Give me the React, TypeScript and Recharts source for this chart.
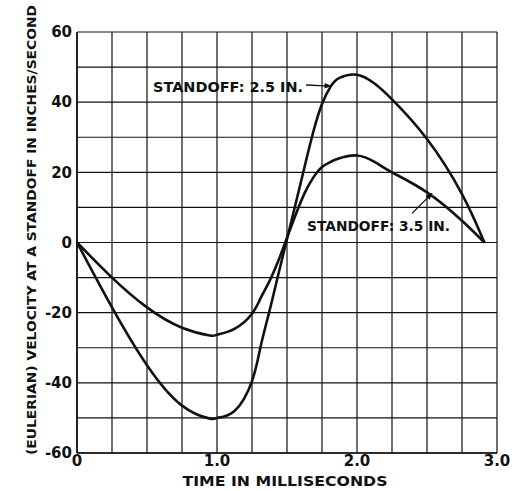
import React from 'react';
import {
  LineChart,
  Line,
  XAxis,
  YAxis,
  CartesianGrid,
  ReferenceLine,
  ReferenceDot,
  Label,
} from 'recharts';

// time in milliseconds
const times = [
  0, 0.25, 0.5, 0.75, 0.95, 1.0, 1.125, 1.25, 1.3125, 1.375, 1.4375, 1.5, 1.5625,
  1.625, 1.6875, 1.75, 1.8125, 1.875, 2.0, 2.125, 2.25, 2.5, 2.75, 2.91,
];
// velocity, inches/second
const standoff25 = [
  0, -18.5, -35, -46.5, -50.2, -50, -48, -39.5, -29.5, -19.5, -9.2, 1, 11.2,
  21.5, 31.5, 39.5, 44.5, 46.9, 47.8, 45.3, 40.8, 29.5, 13.8, 0,
];
const standoff35 = [
  0, -10, -18.5, -24.3, -26.5, -26.3, -24.6, -20.3, -15.8, -11, -5.3, 1.4, 8,
  14, 18.5, 21.5, 23, 24, 24.8, 23, 20, 14.3, 6.2, 0,
];

const xTicks = [0, 0.25, 0.5, 0.75, 1, 1.25, 1.5, 1.75, 2, 2.25, 2.5, 2.75, 3];
const yTicks = [-60, -50, -40, -30, -20, -10, 0, 10, 20, 30, 40, 50, 60];

const data = times.map((t, i) => ({ t, a: standoff25[i], b: standoff35[i] }));

const FONT = '"DejaVu Sans", "Liberation Sans", sans-serif';
const INK = '#111';

const tickStyle = { fill: INK, fontSize: 15, fontWeight: 700, fontFamily: FONT };

const fmtX = (v: number) => (v === 0 ? '0' : Number.isInteger(v) ? v.toFixed(1) : '');
const fmtY = (v: number) => (v % 20 === 0 ? String(v) : '');

const noteText = (text: string, len: number) => (props: any) => {
  const { viewBox } = props;
  return (
    <text
      x={viewBox.x}
      y={viewBox.y}
      fill={INK}
      fontSize={14}
      fontWeight={700}
      fontFamily={FONT}
      textLength={len}
      lengthAdjust="spacingAndGlyphs"
    >
      {text}
    </text>
  );
};

const yTitle = (props: any) => {
  const { viewBox } = props;
  const cx = viewBox.x + 19;
  const cy = 230;
  return (
    <text
      x={cx}
      y={cy}
      transform={`rotate(-90 ${cx} ${cy})`}
      textAnchor="middle"
      fill={INK}
      fontSize={13}
      fontWeight={700}
      fontFamily={FONT}
      textLength={450}
      lengthAdjust="spacingAndGlyphs"
    >
      (EULERIAN) VELOCITY AT A STANDOFF IN INCHES/SECOND
    </text>
  );
};

const xTitle = (props: any) => {
  const { viewBox } = props;
  return (
    <text
      x={viewBox.x + viewBox.width / 2 - 2}
      y={486}
      textAnchor="middle"
      fill={INK}
      fontSize={14}
      fontWeight={700}
      fontFamily={FONT}
      textLength={205}
      lengthAdjust="spacingAndGlyphs"
    >
      TIME IN MILLISECONDS
    </text>
  );
};

export default function App() {
  return (
    <div style={{ position: 'absolute', left: 0, top: 0, background: '#fff' }}>
      <LineChart
        width={525}
        height={491}
        data={data}
        margin={{ top: 32, right: 28, left: 17, bottom: 8 }}
      >
        <defs>
          <marker id="arrowHead" viewBox="0 0 10 10" refX="9" refY="5" markerWidth="9" markerHeight="7" orient="auto" markerUnits="userSpaceOnUse">
            <path d="M0,1 L10,5 L0,9 Z" fill={INK} />
          </marker>
        </defs>
        <CartesianGrid stroke={INK} strokeWidth={1.2} fill="none" />
        <XAxis
          dataKey="t"
          type="number"
          domain={[0, 3]}
          ticks={xTicks}
          tickFormatter={fmtX}
          tick={tickStyle}
          tickLine={false}
          tickSize={0}
          tickMargin={2}
          axisLine={{ stroke: INK, strokeWidth: 1.6 }}
          height={30}
          interval={0}
        >
          <Label content={xTitle} />
        </XAxis>
        <YAxis
          type="number"
          domain={[-60, 60]}
          ticks={yTicks}
          tickFormatter={fmtY}
          tick={tickStyle}
          tickLine={false}
          tickSize={0}
          tickMargin={5}
          axisLine={{ stroke: INK, strokeWidth: 1.6 }}
          width={60}
          interval={0}
        >
          <Label content={yTitle} />
        </YAxis>
        <Line type="natural" dataKey="a" stroke={INK} strokeWidth={2.6} dot={false} isAnimationActive={false} />
        <Line type="natural" dataKey="b" stroke={INK} strokeWidth={2.6} dot={false} isAnimationActive={false} />

        <ReferenceLine
          segment={[{ x: 1.636, y: 44.9 }, { x: 1.814, y: 44.6 }]}
          stroke={INK}
          strokeWidth={1.3}
          markerEnd="url(#arrowHead)"
        />
        <ReferenceLine
          segment={[{ x: 2.393, y: 8.3 }, { x: 2.536, y: 14.0 }]}
          stroke={INK}
          strokeWidth={1.3}
          markerEnd="url(#arrowHead)"
        />
        <ReferenceDot x={0.543} y={42.9} r={0} fill="none" stroke="none" label={noteText('STANDOFF: 2.5 IN.', 150)} />
        <ReferenceDot x={1.643} y={3.4} r={0} fill="none" stroke="none" label={noteText('STANDOFF: 3.5 IN.', 143)} />
      </LineChart>
    </div>
  );
}
